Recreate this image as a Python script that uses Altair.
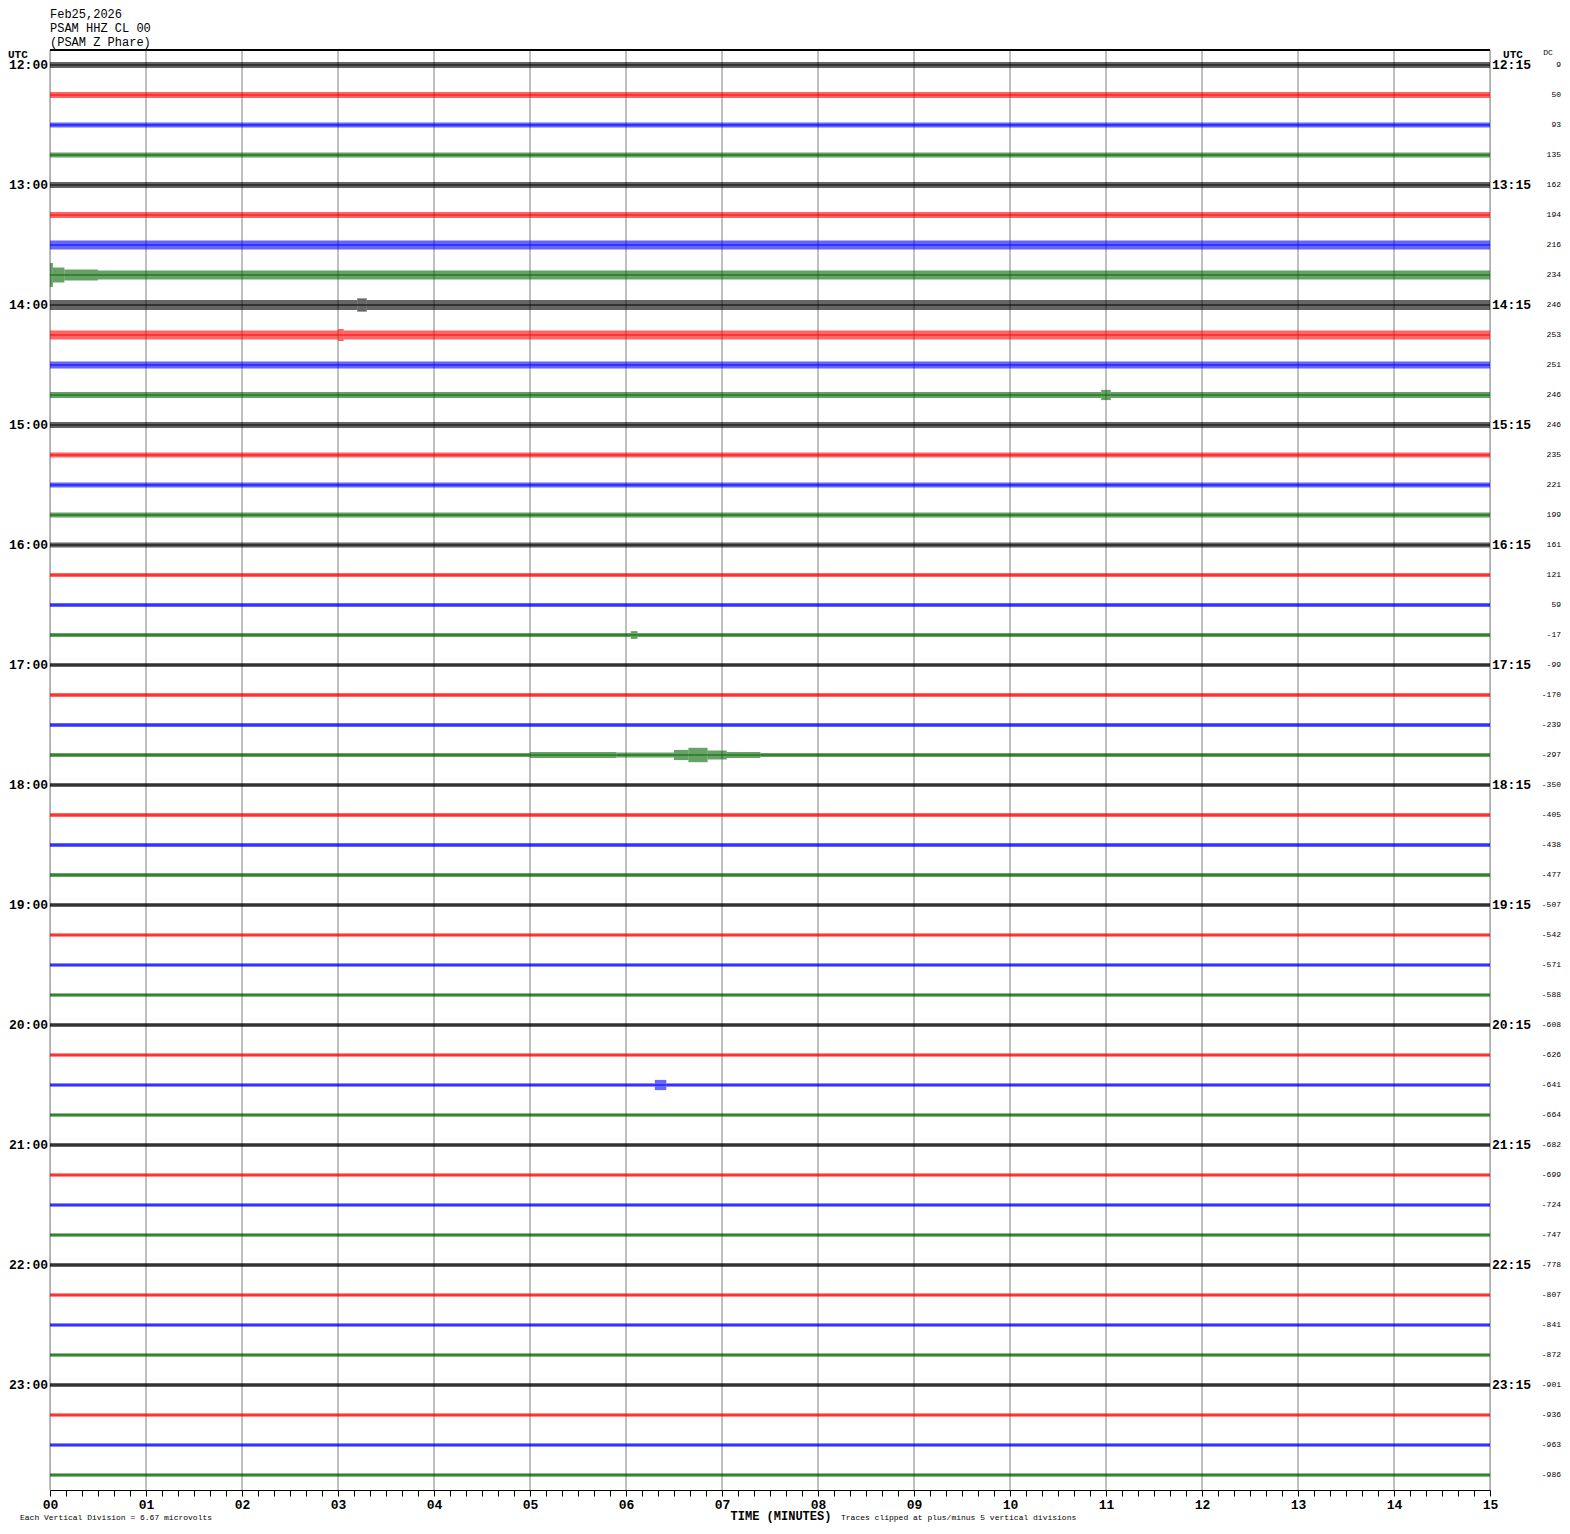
import altair as alt
import pandas as pd

# ---------------- data ----------------
HOUR_LABELS = ["12:00", "13:00", "14:00", "15:00", "16:00", "17:00",
               "18:00", "19:00", "20:00", "21:00", "22:00", "23:00"]
RIGHT_LABELS = ["12:15", "13:15", "14:15", "15:15", "16:15", "17:15",
                "18:15", "19:15", "20:15", "21:15", "22:15", "23:15"]
DC_VALUES = [9, 50, 93, 135, 162, 194, 216, 234, 246, 253, 251, 246,
             246, 235, 221, 199, 161, 121, 59, -17, -99, -170, -239, -297,
             -350, -405, -438, -477, -507, -542, -571, -588, -608, -626, -641, -664,
             -682, -699, -724, -747, -778, -807, -841, -872, -901, -936, -963, -986]
TRACE_COLORS = ["#000000", "#ff0000", "#0000ff", "#006400"]
# background noise half-amplitude of each 15-minute line (in trace spacings)
NOISE_AMP = [0.10, 0.10, 0.085, 0.085, 0.10, 0.10, 0.15, 0.15, 0.165, 0.15, 0.12, 0.10,
             0.10, 0.085, 0.085, 0.085, 0.085, 0.07, 0.07, 0.07, 0.07, 0.065, 0.065, 0.065,
             0.065, 0.065, 0.065, 0.065, 0.065, 0.06, 0.06, 0.06, 0.065, 0.06, 0.06, 0.06,
             0.065, 0.06, 0.06, 0.06, 0.065, 0.06, 0.06, 0.06, 0.065, 0.06, 0.06, 0.06]
# notable signals: (line index, start minute, end minute, half-amplitude)
EVENT_ROW = [7, 7, 7, 8, 9, 11, 19, 23, 23, 23, 23, 23, 23, 34]
EVENT_START = [0.00, 0.03, 0.15, 3.20, 3.00, 10.95, 6.05, 5.00, 5.90, 6.50, 6.65, 6.85, 7.05, 6.30]
EVENT_END = [0.03, 0.15, 0.50, 3.30, 3.06, 11.05, 6.12, 5.90, 6.50, 6.65, 6.85, 7.05, 7.40, 6.42]
EVENT_AMP = [0.40, 0.25, 0.18, 0.22, 0.20, 0.17, 0.13, 0.10, 0.08, 0.17, 0.24, 0.15, 0.10, 0.17]
MINUTE_LABELS = ["00", "01", "02", "03", "04", "05", "06", "07",
                 "08", "09", "10", "11", "12", "13", "14", "15"]

# ---------------- tables ----------------
rects = []
lines = []
for i, base in enumerate(NOISE_AMP):
    color = TRACE_COLORS[i % 4]
    evs = sorted([(s, e, a) for r, s, e, a in zip(EVENT_ROW, EVENT_START, EVENT_END, EVENT_AMP) if r == i])
    cur = 0.0
    for s, e, a in evs:
        if s > cur:
            rects.append(dict(row=i, t0=cur, t1=s, lo=i - base, hi=i + base, color=color))
        rects.append(dict(row=i, t0=s, t1=e, lo=i - a, hi=i + a, color=color))
        cur = e
    if cur < 15:
        rects.append(dict(row=i, t0=cur, t1=15.0, lo=i - base, hi=i + base, color=color))
    lines.append(dict(row=i, t0=0.0, t1=15.0, color=color, dc=str(DC_VALUES[i])))

rect_df = pd.DataFrame(rects)
line_df = pd.DataFrame(lines)
hour_df = pd.DataFrame(dict(row=[4 * k for k in range(12)], left=HOUR_LABELS, right=RIGHT_LABELS))
grid_df = pd.DataFrame(dict(minute=list(range(16)), label=MINUTE_LABELS))

FONT = "Liberation Mono"
W, H = 1440, 1440

xs = alt.Scale(domain=[0, 15], nice=False, zero=False)
ys = alt.Scale(domain=[-0.5, 47.5], reverse=True, nice=False, zero=False)

tick_vals = [k / 6 for k in range(91)]
label_expr = ("(abs(datum.value - round(datum.value)) < 0.001) ? "
              "(round(datum.value) < 10 ? '0' + round(datum.value) : '' + round(datum.value)) : ''")

grid = alt.Chart(grid_df).mark_rule(color="#808080", strokeWidth=1).encode(
    x=alt.X("minute:Q", scale=xs,
            axis=alt.Axis(values=tick_vals, tickCount=200, labelExpr=label_expr, title=None,
                          tickSize=6, tickColor="#000000", domainColor="#000000",
                          labelColor="#000000", labelFont=FONT, labelFontSize=13,
                          labelFontWeight="bold", labelPadding=2, labelOverlap=False,
                          labelSeparation=0, grid=False, labelFlush=False, labelBound=False)),
    y=alt.value(0), y2=alt.value(H),
)

top_border = alt.Chart(grid_df).mark_rule(color="#000000", strokeWidth=1).encode(
    x=alt.value(0), x2=alt.value(W), y=alt.value(0)
)

bands = alt.Chart(rect_df).mark_rect(opacity=0.6).encode(
    x=alt.X("t0:Q", scale=xs), x2="t1:Q",
    y=alt.Y("lo:Q", scale=ys, axis=None), y2="hi:Q",
    color=alt.Color("color:N", scale=None),
)

centre = alt.Chart(line_df).mark_rule(strokeWidth=1).encode(
    x=alt.X("t0:Q", scale=xs), x2="t1:Q",
    y=alt.Y("row:Q", scale=ys, axis=None),
    color=alt.Color("color:N", scale=None),
)

left_lab = alt.Chart(hour_df).mark_text(align="right", baseline="middle", font=FONT,
                                        fontSize=13, fontWeight="bold").encode(
    x=alt.value(-2), y=alt.Y("row:Q", scale=ys, axis=None), text="left:N")

right_lab = alt.Chart(hour_df).mark_text(align="left", baseline="middle", font=FONT,
                                         fontSize=13, fontWeight="bold").encode(
    x=alt.value(W + 2), y=alt.Y("row:Q", scale=ys, axis=None), text="right:N")

dc_lab = alt.Chart(line_df).mark_text(align="right", baseline="middle", font=FONT,
                                      fontSize=8).encode(
    x=alt.value(W + 71), y=alt.Y("row:Q", scale=ys, axis=None), text="dc:N")

def label(txt, x, y, size, weight="normal", align="left"):
    return alt.Chart(pd.DataFrame(dict(t=[txt]))).mark_text(
        align=align, baseline="middle", font=FONT, fontSize=size, fontWeight=weight,
        color="#000000").encode(x=alt.value(x), y=alt.value(y), text="t:N")

texts = [
    label("Feb25,2026", 0, -36, 12),
    label("PSAM HHZ CL 00", 0, -22, 12),
    label("(PSAM Z Phare)", 0, -8, 12),
    label("UTC", -42, 5, 11, "bold"),
    label("UTC", W + 23, 5, 11, "bold", "center"),
    label("DC", W + 58, 3, 8, "normal", "center"),
    label("TIME (MINUTES)", 731, 1466, 12, "bold", "center"),
    label("Each Vertical Division =    6.67 microvolts", -30, 1468, 8),
    label("Traces clipped at plus/minus 5 vertical divisions", 791, 1468, 8),
]

chart = alt.layer(grid, top_border, bands, centre, left_lab, right_lab, dc_lab, *texts).properties(
    width=W, height=H,
    autosize=alt.AutoSizeParams(type="none"),
    padding={"left": 42, "top": 42, "right": 72, "bottom": 36},
).configure_view(stroke=None).configure(background="#ffffff")

chart.save("out.html", embed_options={"renderer": "svg", "actions": False})
